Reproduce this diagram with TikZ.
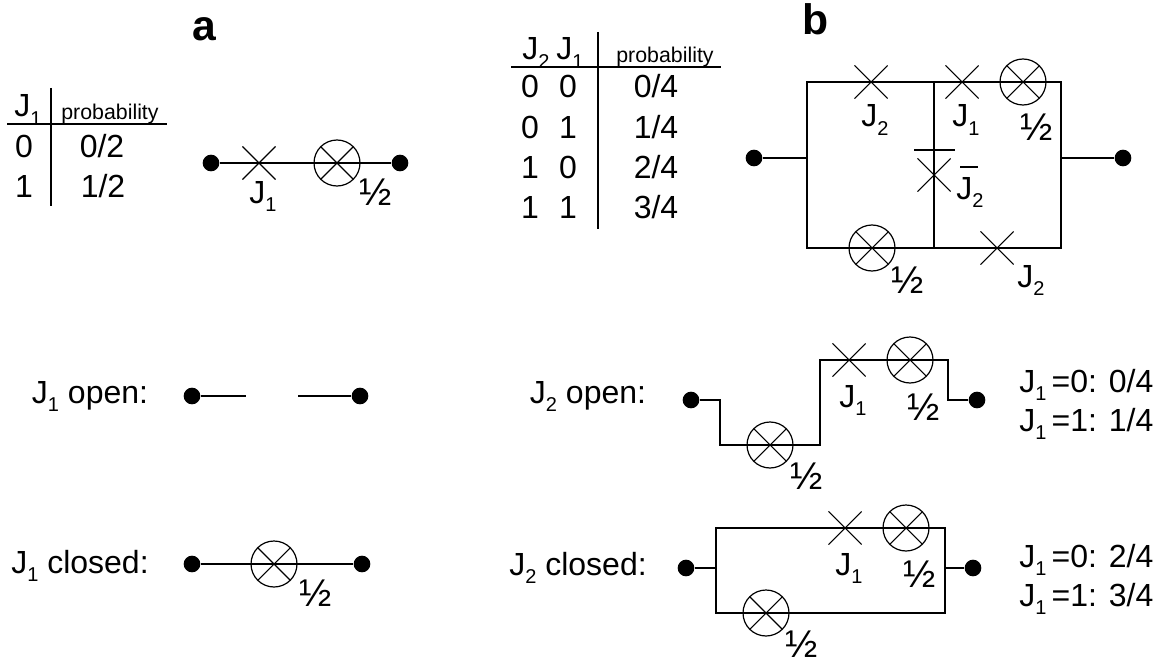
\documentclass[tikz,border=0pt]{standalone}
\usepackage{fontspec}
\setmainfont{Liberation Sans}
\usetikzlibrary{shapes.misc}
\newcommand{\Jn}[1]{J\raisebox{-.26em}{\fontsize{15}{15}\selectfont #1}}
\tikzset{
	wire/.style={line width=1.1pt},
	rule/.style={line width=.9pt},
	term/.style={circle,fill=black,minimum size=12.5pt,inner sep=0pt},
	junction/.style={cross out,draw,line width=.8pt,minimum size=24pt,inner sep=0pt},
	lamp/.style={circle,draw,line width=.9pt,minimum size=34.5pt,inner sep=0pt,
		path picture={\draw[line width=.8pt] (path picture bounding box.north west) -- (path picture bounding box.south east)
		(path picture bounding box.north east) -- (path picture bounding box.south west);}},
	txt/.style={font=\fontsize{24}{28}\selectfont,inner sep=0pt,anchor=base},
	txtl/.style={txt,anchor=base west},
	small/.style={font=\fontsize{16}{18}\selectfont,inner sep=0pt,anchor=base},
	half/.style={font=\fontsize{29}{32}\selectfont,inner sep=0pt,text height=21pt,text depth=0pt},
	head/.style={font=\fontsize{32}{36}\bfseries\selectfont,inner sep=0pt,anchor=base}
}
\begin{document}
\begin{tikzpicture}[x=.75pt,y=-.75pt]
	 \useasboundingbox (0,0) rectangle (1161,660);
	 % panel a
	 \node [head] (labela) at (204,41) {a};
	 \coordinate (ta1) at (51,88);
	 \coordinate (ta2) at (51,206);
	 \coordinate (ta3) at (7,124);
	 \coordinate (ta4) at (167,124);
	 \draw [rule] (ta1) -- (ta2);
	 \draw [rule] (ta3) -- (ta4);
	 \node [txt] (ta5) at (28,117) {\Jn{1}};
	 \node [small] (ta6) at (110,120) {probability};
	 \node [txt] (ta7) at (24,157) {0};
	 \node [txt] (ta8) at (102,157) {0/2};
	 \node [txt] (ta9) at (24,197) {1};
	 \node [txt] (ta10) at (103,197) {1/2};
	 \node [term] (a1) at (211,163) {};
	 \node [term] (a2) at (400,163) {};
	 \node [junction] (ax) at (259,163) {};
	 \node [lamp] (al) at (337,163) {};
	 \draw [wire] (a1) -- (a2);
	 \node [txt] (axl) at (263,203) {\Jn{1}};
	 \node [half] (alh) at (376,191) {½};
	 % J1 open and closed
	 \node [txt] (oa) at (90,403) {\Jn{1} open:};
	 \node [term] (oa1) at (192,396) {};
	 \node [term] (oa2) at (360,396) {};
	 \coordinate (oa3) at (246,396);
	 \coordinate (oa4) at (298,396);
	 \draw [wire] (oa1) -- (oa3);
	 \draw [wire] (oa4) -- (oa2);
	 \node [txt] (ca) at (80,573) {\Jn{1} closed:};
	 \node [term] (ca1) at (192,564) {};
	 \node [term] (ca2) at (362,564) {};
	 \node [lamp] (cal) at (274,564) {};
	 \draw [wire] (ca1) -- (ca2);
	 \node [half] (calh) at (316,592) {½};
	 % panel b
	 \node [head] (labelb) at (816,35) {b};
	 \coordinate (tb1) at (598,32);
	 \coordinate (tb2) at (598,229);
	 \coordinate (tb3) at (511,67);
	 \coordinate (tb4) at (721,67);
	 \draw [rule] (tb1) -- (tb2);
	 \draw [rule] (tb3) -- (tb4);
	 \node [txt] (tb5) at (536,60) {\Jn{2}};
	 \node [txt] (tb6) at (570,60) {\Jn{1}};
	 \node [small] (tb7) at (665,63) {probability};
	 \node [txt] (r1a) at (530,98) {0};
	 \node [txt] (r1b) at (568,98) {0};
	 \node [txt] (r1c) at (656,98) {0/4};
	 \node [txt] (r2a) at (530,138) {0};
	 \node [txt] (r2b) at (568,138) {1};
	 \node [txt] (r2c) at (656,138) {1/4};
	 \node [txt] (r3a) at (530,178) {1};
	 \node [txt] (r3b) at (568,178) {0};
	 \node [txt] (r3c) at (656,178) {2/4};
	 \node [txt] (r4a) at (530,218) {1};
	 \node [txt] (r4b) at (568,218) {1};
	 \node [txt] (r4c) at (656,218) {3/4};
	 \node [term] (b1) at (754,158) {};
	 \node [term] (b2) at (1123,158) {};
	 \coordinate (bl) at (807,158);
	 \coordinate (br) at (1061,158);
	 \coordinate (b3) at (807,82);
	 \coordinate (b4) at (934,82);
	 \coordinate (b5) at (1061,82);
	 \coordinate (b6) at (807,248);
	 \coordinate (b7) at (934,248);
	 \coordinate (b8) at (1061,248);
	 \node [junction] (bx1) at (871,82) {};
	 \node [junction] (bx2) at (962,82) {};
	 \node [lamp] (bl1) at (1023,82) {};
	 \node [junction] (bx3) at (934,175) {};
	 \node [lamp] (bl2) at (872,248) {};
	 \node [junction] (bx4) at (997,248) {};
	 \draw [wire] (b1) -- (bl);
	 \draw [wire] (br) -- (b2);
	 \draw [wire] (b3) -- (b5) -- (b8) -- (b6) -- cycle;
	 \draw [wire] (b4) -- (b7);
	 \coordinate (bb1) at (914,150);
	 \coordinate (bb2) at (955,150);
	 \draw [rule] (bb1) -- (bb2);
	 \coordinate (bb3) at (960,167);
	 \coordinate (bb4) at (978,167);
	 \draw [rule] (bb3) -- (bb4);
	 \node [txt] (bx1l) at (875,127) {\Jn{2}};
	 \node [txt] (bx2l) at (966,127) {\Jn{1}};
	 \node [half] (bl1h) at (1037,127) {½};
	 \node [txt] (bx3l) at (970,199) {\Jn{2}};
	 \node [half] (bl2h) at (908,279) {½};
	 \node [txt] (bx4l) at (1031,287) {\Jn{2}};
	 % J2 open
	 \node [txt] (ob) at (588,403) {\Jn{2} open:};
	 \node [term] (ob1) at (691,400) {};
	 \node [term] (ob2) at (977,400) {};
	 \coordinate (ob3) at (720,400);
	 \coordinate (ob4) at (720,445);
	 \coordinate (ob5) at (820,445);
	 \coordinate (ob6) at (820,360);
	 \coordinate (ob7) at (948,360);
	 \coordinate (ob8) at (948,400);
	 \node [lamp] (obl1) at (770,445) {};
	 \node [junction] (obx) at (849,360) {};
	 \node [lamp] (obl2) at (910,360) {};
	 \draw [wire] (ob1) -- (ob3) -- (ob4) -- (ob5) -- (ob6) -- (ob7) -- (ob8) -- (ob2);
	 \node [half] (obl1h) at (807,475) {½};
	 \node [txt] (obxl) at (853,407) {\Jn{1}};
	 \node [half] (obl2h) at (924,406) {½};
	 \node [txtl] (ob9) at (1019,392) {\Jn{1}\,=0: 0/4};
	 \node [txtl] (ob10) at (1019,431) {\Jn{1}\,=1: 1/4};
	 % J2 closed
	 \node [txt] (cb) at (578,575) {\Jn{2} closed:};
	 \node [term] (cb1) at (686,568) {};
	 \node [term] (cb2) at (973,568) {};
	 \coordinate (cb3) at (716,568);
	 \coordinate (cb4) at (945,568);
	 \coordinate (cb5) at (716,528);
	 \coordinate (cb6) at (945,528);
	 \coordinate (cb7) at (716,613);
	 \coordinate (cb8) at (945,613);
	 \node [junction] (cbx) at (845,528) {};
	 \node [lamp] (cbl1) at (906,528) {};
	 \node [lamp] (cbl2) at (766,613) {};
	 \draw [wire] (cb1) -- (cb3);
	 \draw [wire] (cb4) -- (cb2);
	 \draw [wire] (cb5) -- (cb6) -- (cb8) -- (cb7) -- cycle;
	 \node [txt] (cbxl) at (849,575) {\Jn{1}};
	 \node [half] (cbl1h) at (920,573) {½};
	 \node [half] (cbl2h) at (802,643) {½};
	 \node [txtl] (cb9) at (1019,567) {\Jn{1}\,=0: 2/4};
	 \node [txtl] (cb10) at (1019,606) {\Jn{1}\,=1: 3/4};
 \end{tikzpicture}
\end{document}
